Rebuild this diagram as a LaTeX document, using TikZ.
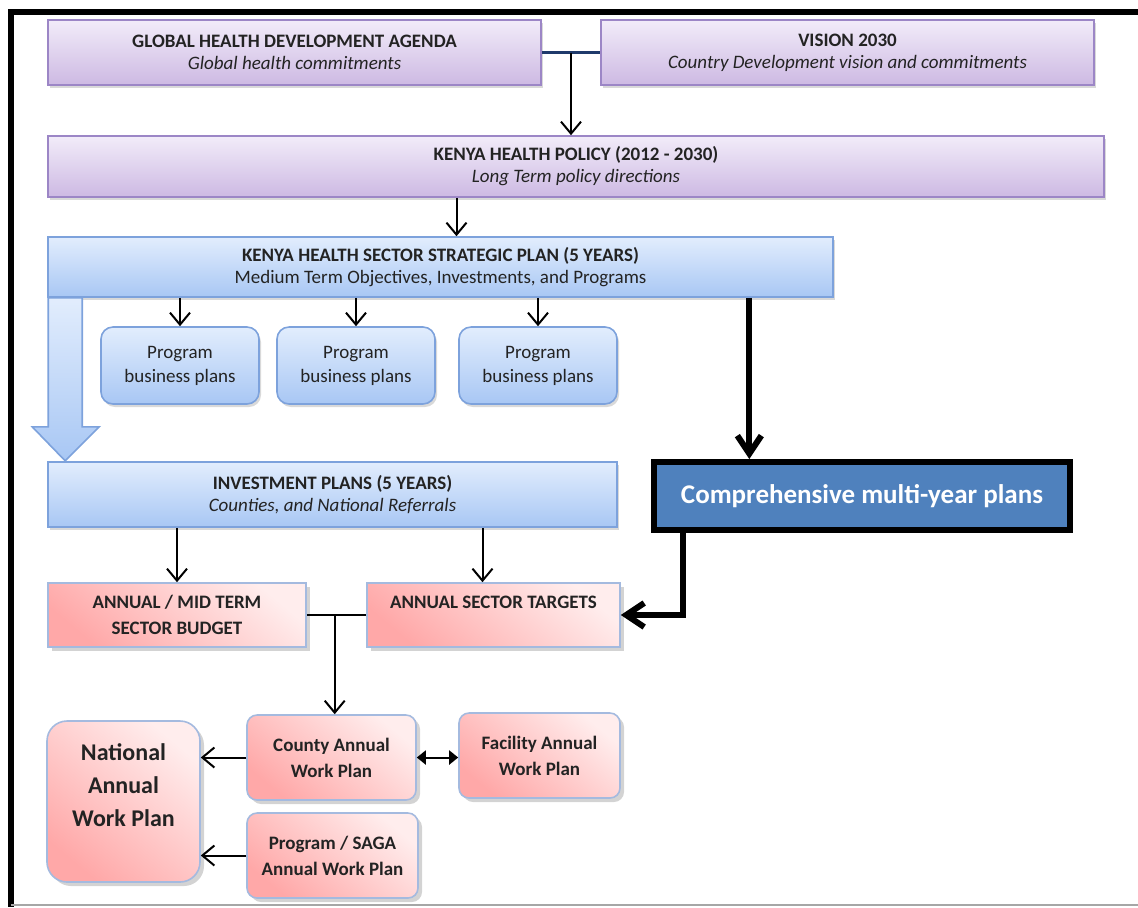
\documentclass[tikz,border=0pt]{standalone}
\usepackage{fontspec}
\setmainfont{Carlito}
\usetikzlibrary{arrows.meta,calc,shadows}

\definecolor{lilaclight}{HTML}{F2ECF9}
\definecolor{lilacdark}{HTML}{CDB9E3}
\definecolor{lilacline}{HTML}{9C86C6}
\definecolor{skylight}{HTML}{E2EDFD}
\definecolor{skydark}{HTML}{A8C7F4}
\definecolor{skyline}{HTML}{7DA2DC}
\definecolor{roselight}{HTML}{FFEDED}
\definecolor{rosedark}{HTML}{FFA8A8}
\definecolor{roseline}{HTML}{A4BADF}
\definecolor{cmpblue}{HTML}{4F81BD}
\definecolor{navyline}{HTML}{1F3A6B}
\definecolor{inkgray}{HTML}{232323}

\tikzset{
  box/.style={draw, line width=0.8pt, align=center, text=inkgray, inner sep=2pt,
    font=\fontsize{9.5}{11}\selectfont},
  lilacbox/.style={box, draw=lilacline, top color=lilaclight, bottom color=lilacdark,
    drop shadow={shadow xshift=1pt, shadow yshift=-1.5pt, opacity=0.3}},
  skybox/.style={box, draw=skyline, top color=skylight, bottom color=skydark,
    drop shadow={shadow xshift=1pt, shadow yshift=-1.5pt, opacity=0.3}},
  planbox/.style={skybox, rounded corners=6pt, minimum width=79pt, minimum height=38.5pt,
    font=\fontsize{9.5}{12}\selectfont},
  rosebox/.style={box, draw=roseline, top color=roselight, bottom color=rosedark,
    shading angle=-40, font=\fontsize{9.5}{13}\selectfont\bfseries,
    drop shadow={shadow xshift=2pt, shadow yshift=-2pt, opacity=0.35}},
  workbox/.style={rosebox, rounded corners=5pt, minimum height=42.5pt},
  arr/.style={line width=1pt, -{Straight Barb[length=6pt, width=10pt]}},
  fatarr/.style={line width=3pt, -{Straight Barb[length=9pt, width=12pt]}},
  dblarr/.style={line width=1pt, {Triangle[length=4.5pt, width=7pt]}-{Triangle[length=4.5pt, width=7pt]}},
  bigarrow/.style={draw=skyline, line width=0.8pt, top color=skylight, bottom color=skydark}
}

\begin{document}
\begin{tikzpicture}[x=0.5pt, y=-0.5pt]
  \useasboundingbox (0,0) rectangle (1138,907);

  % frame
  \draw[line width=3pt] (1138,12) -- (11,12) -- (11,907);
  \draw[gray!70, line width=1pt] (11,905) -- (1138,905);

  \node[lilacbox, minimum width=246.5pt, minimum height=32.5pt] (global) at (294.5,52.5)
    {\textbf{GLOBAL HEALTH DEVELOPMENT AGENDA}\\\textit{Global health commitments}};
  \node[lilacbox, minimum width=246.5pt, minimum height=32.5pt] (vision) at (847.5,52.5)
    {\textbf{VISION 2030}\\\textit{Country Development vision and commitments}};
  \node[lilacbox, minimum width=528pt, minimum height=30.5pt] (khp) at (576,166.5)
    {\textbf{KENYA HEALTH POLICY (2012 - 2030)}\\\textit{Long Term policy directions}};

  \node[skybox, minimum width=392.5pt, minimum height=30pt] (ssp) at (440.5,267)
    {\textbf{KENYA HEALTH SECTOR STRATEGIC PLAN (5 YEARS)}\\Medium Term Objectives, Investments, and Programs};
  \node[planbox] (prog1) at (180,365.5) {Program\\business plans};
  \node[planbox] (prog2) at (356,365.5) {Program\\business plans};
  \node[planbox] (prog3) at (538,365.5) {Program\\business plans};

  \node[skybox, minimum width=284.5pt, minimum height=32.5pt] (inv) at (332.5,494.5)
    {\textbf{INVESTMENT PLANS (5 YEARS)}\\\textit{Counties, and National Referrals}};
  \node[draw, line width=3pt, fill=cmpblue, text=white, minimum width=208pt, minimum height=34pt,
    font=\fontsize{13.5}{15}\selectfont\bfseries] (comp) at (862,496) {Comprehensive multi-year plans};

  \node[rosebox, minimum width=129pt, minimum height=32pt] (budget) at (177,615)
    {ANNUAL / MID TERM\\SECTOR BUDGET};
  \node[rosebox, minimum width=126.5pt, minimum height=32pt] (tgt) at (493.5,615)
    {ANNUAL SECTOR TARGETS\\\mbox{}};

  \node[workbox, minimum width=84.5pt] (county) at (331.5,757.5) {County Annual\\Work Plan};
  \node[workbox, minimum width=80.5pt] (fac) at (539.5,755.5) {Facility Annual\\Work Plan};
  \node[workbox, minimum width=85.5pt] (saga) at (332.5,855.5) {Program / SAGA\\Annual Work Plan};
  \node[rosebox, rounded corners=10pt, minimum width=76.5pt, minimum height=80.5pt,
    font=\fontsize{12}{16.5}\selectfont\bfseries] (natl) at (123.5,801.5)
    {National\\Annual\\Work Plan\\\mbox{}};

  \coordinate (gv) at ($(global.east)!0.5!(vision.west)$);
  \coordinate (sspin) at ([xshift=8pt]ssp.north);
  \coordinate (cmpin) at ($(comp.north west)!0.233!(comp.north east)$);
  \coordinate (cmpout) at ($(comp.south west)!0.075!(comp.south east)$);
  \coordinate (tgtin) at ([xshift=-5.5pt]tgt.north);
  \coordinate (bt) at ($(budget.east)!0.47!(tgt.west)$);

  \draw[navyline, line width=1.2pt] (global.east) -- (vision.west);
  \draw[arr] (gv) -- (gv |- khp.north);
  \draw[arr] (sspin |- khp.south) -- (sspin);
  \draw[arr] (ssp.south -| prog1.north) -- (prog1.north);
  \draw[arr] (ssp.south -| prog2.north) -- (prog2.north);
  \draw[arr] (ssp.south -| prog3.north) -- (prog3.north);
  \draw[bigarrow] ([xshift=0.5pt]ssp.south west) -- ++(0,129) -- ++(-16,0) -- ++(33,34)
    -- ++(34,-34) -- ++(-17,0) -- ++(0,-129) -- cycle;
  \draw[fatarr] (ssp.south -| cmpin) -- (cmpin);
  \draw[fatarr] (cmpout) |- (tgt.east);
  \draw[arr] (inv.south -| budget.north) -- (budget.north);
  \draw[arr] (inv.south -| tgtin) -- (tgtin);
  \draw[line width=1pt] (budget.east) -- (tgt.west);
  \draw[arr] (bt) -- (bt |- county.north);
  \draw[arr] (county.west) -- (county.west -| natl.east);
  \draw[arr] (saga.west) -- (saga.west -| natl.east);
  \draw[dblarr] (county.east) -- (county.east -| fac.west);
\end{tikzpicture}
\end{document}
